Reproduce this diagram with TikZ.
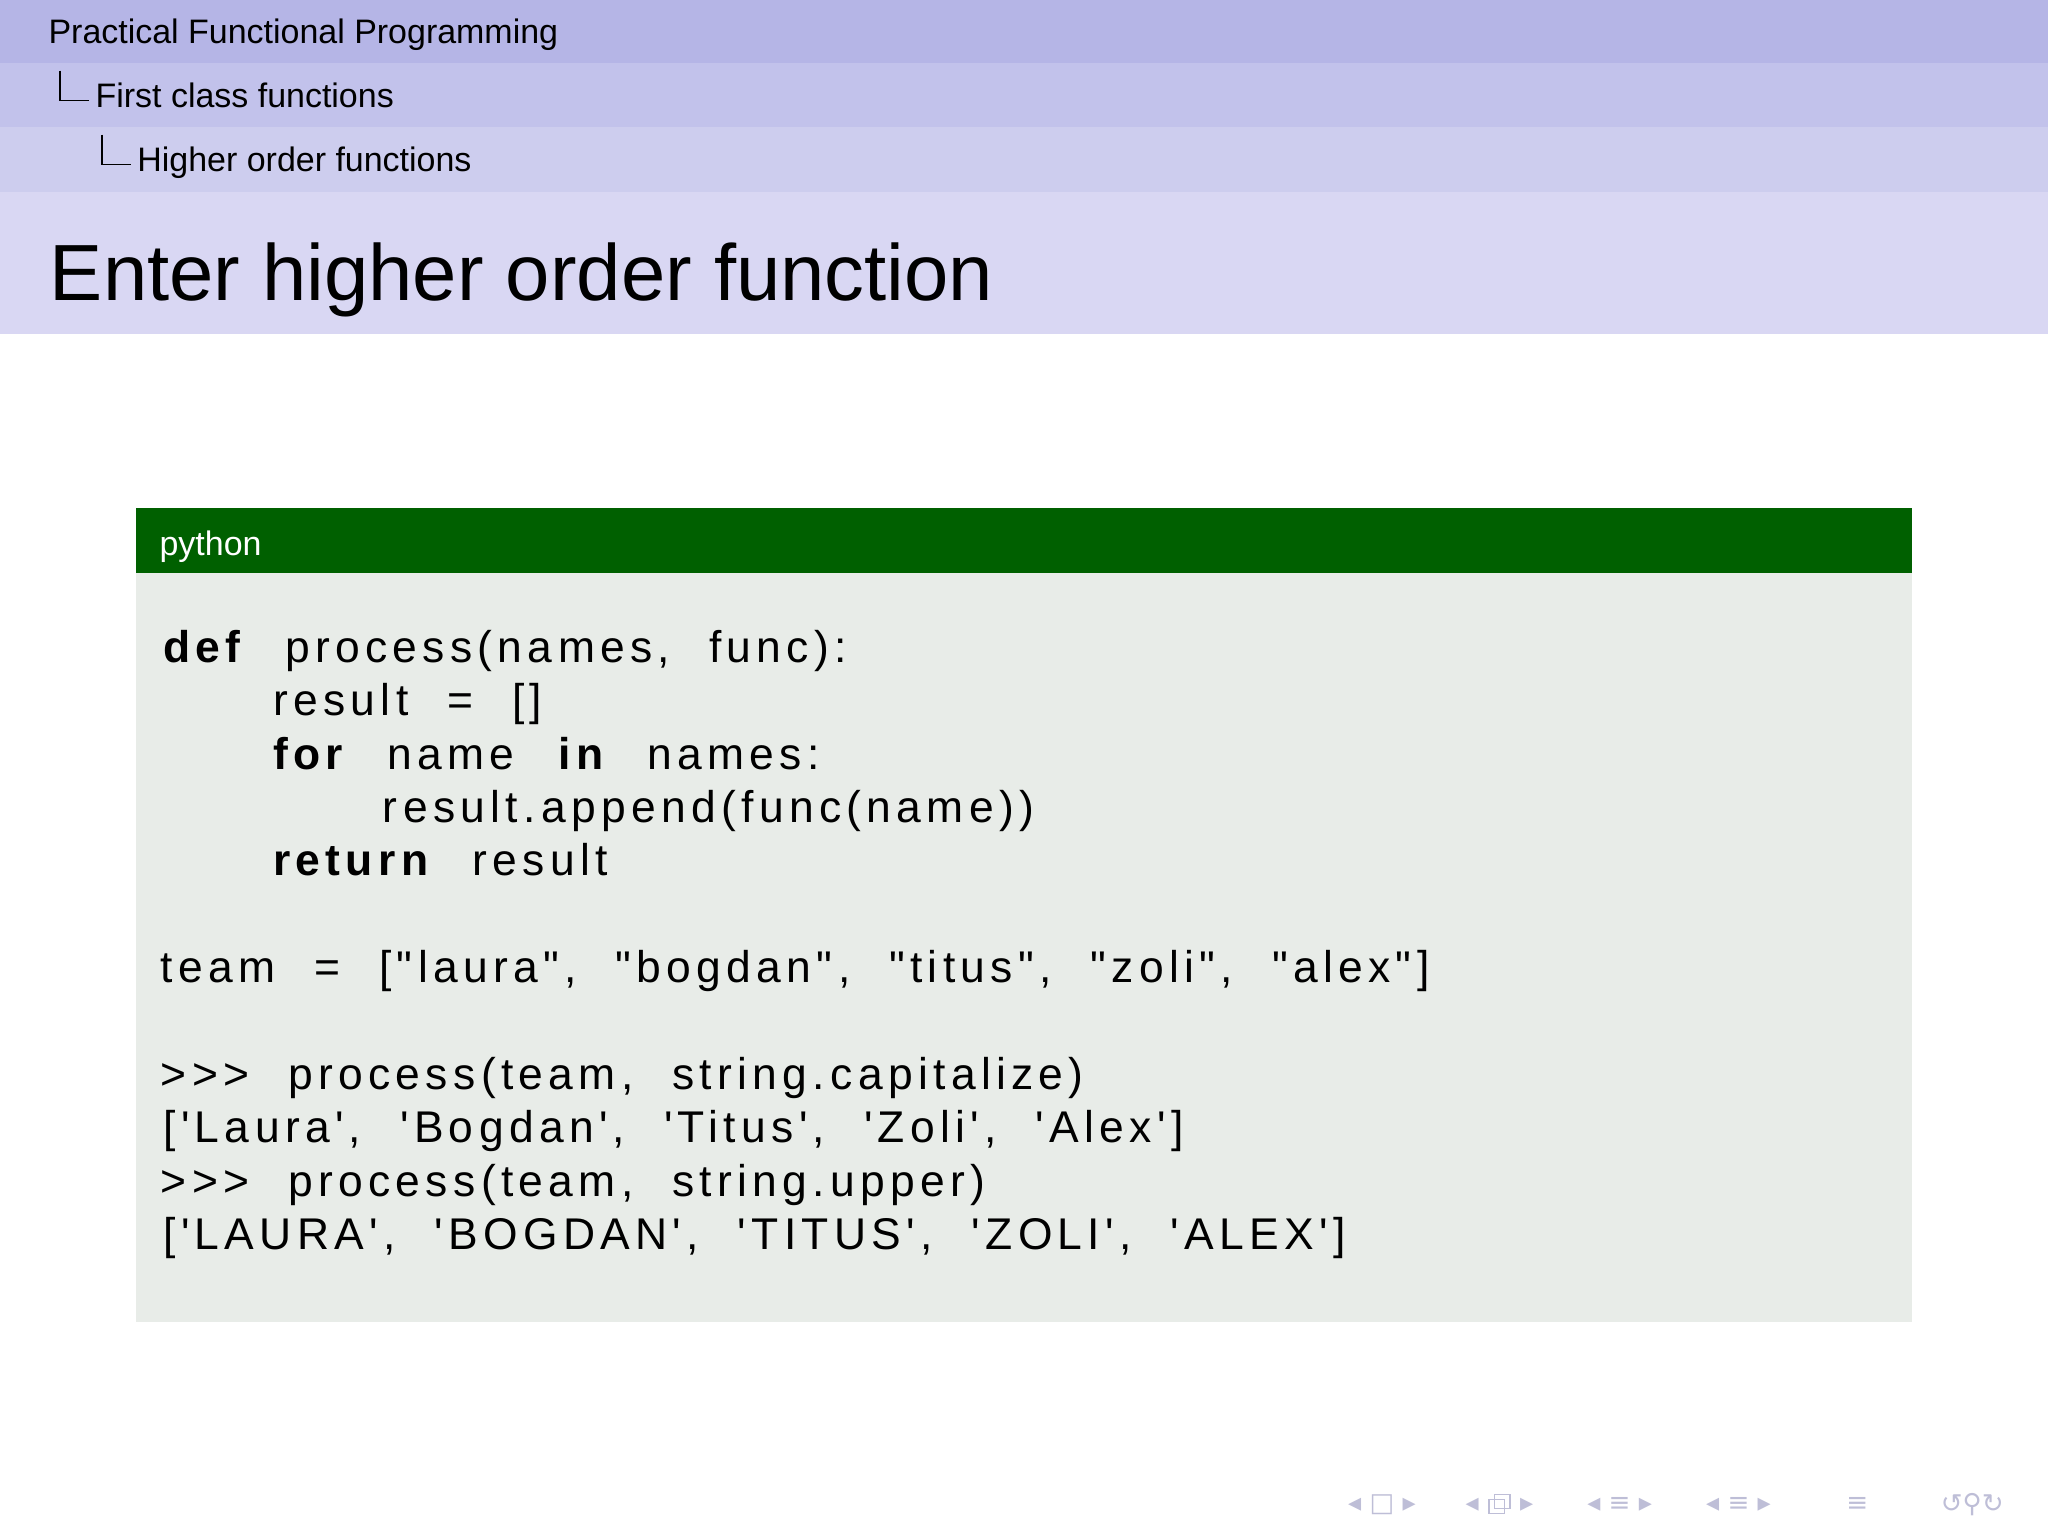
\documentclass[tikz,border=0pt]{standalone}
\usepackage{fontspec}
\setmainfont{Liberation Sans}
\newfontfamily\codefont[LetterSpace=12,WordSpace=2.2]{Liberation Sans}
\newfontfamily\symfont{DejaVu Sans}
\definecolor{bandA}{RGB}{181,181,230}
\definecolor{bandB}{RGB}{194,194,235}
\definecolor{bandC}{RGB}{205,205,238}
\definecolor{bandD}{RGB}{217,215,243}
\definecolor{boxhead}{RGB}{0,96,0}
\definecolor{boxbody}{RGB}{232,236,232}
\definecolor{navgray}{RGB}{190,190,215}
\tikzset{
  hdr/.style={anchor=base west,inner sep=0pt,font=\fontsize{26}{30}\selectfont},
  code/.style={anchor=base west,inner sep=0pt,font=\fontsize{34}{40}\codefont},
  nav/.style={anchor=center,inner sep=0pt,text=navgray,font=\fontsize{20}{22}\symfont}
}
\begin{document}
\begin{tikzpicture}[x=1pt,y=-1pt]
\useasboundingbox (0,0) rectangle (1568,1176);
\fill[white] (0,0) rectangle (1568,1176);
\fill[bandA] (0,0) rectangle (1568,48);
\fill[bandB] (0,48) rectangle (1568,97);
\fill[bandC] (0,97) rectangle (1568,147);
\fill[bandD] (0,147) rectangle (1568,256);
\node[hdr] (h1) at (37,33) {Practical Functional Programming};
\node[hdr] (h2) at (73,82) {First class functions};
\node[hdr] (h3) at (105,131) {Higher order functions};
\draw[line width=1.2pt] (46,54) -- (46,77) -- (68,77);
\draw[line width=1.2pt] (78,103) -- (78,126) -- (100,126);
\node[anchor=base west,inner sep=0pt,font=\fontsize{61}{66}\selectfont] (title) at (38,230) {Enter higher order function};
\fill[boxhead] (104,389) rectangle (1464,439);
\fill[boxbody] (104,439) rectangle (1464,1012);
\node[hdr,text=white] (bt) at (122,425) {python};
\node[code] (l1) at (125,507) {\textbf{def} process(names, func):};
\node[code] (l2) at (209,548) {result = []};
\node[code] (l3) at (209,589) {\textbf{for} name \textbf{in} names:};
\node[code] (l4) at (293,630) {result.append(func(name))};
\node[code] (l5) at (209,670) {\textbf{return} result};
\node[code] (l6) at (123,752) {team = ["laura", "bogdan", "titus", "zoli", "alex"]};
\node[code] (l7) at (123,834) {>{}>{}> process(team, string.capitalize)};
\node[code] (l8) at (125,875) {['Laura', 'Bogdan', 'Titus', 'Zoli', 'Alex']};
\node[code] (l9) at (123,916) {>{}>{}> process(team, string.upper)};
\node[code] (l10) at (125,957) {['LAURA', 'BOGDAN', 'TITUS', 'ZOLI', 'ALEX']};
\node[nav] (n1) at (1058,1152) {◂ □ ▸};
\node[nav] (n2) at (1148,1152) {◂ \phantom{□} ▸};
\draw[navgray,line width=1pt] (1140,1148) rectangle (1152,1159) (1144,1144) rectangle (1156,1155);
\node[nav] (n3) at (1240,1152) {◂ ≡ ▸};
\node[nav] (n4) at (1331,1152) {◂ ≡ ▸};
\node[nav] (n5) at (1422,1152) {≡};
\node[nav] (n6) at (1510,1152) {↺⚲↻};
\end{tikzpicture}
\end{document}
